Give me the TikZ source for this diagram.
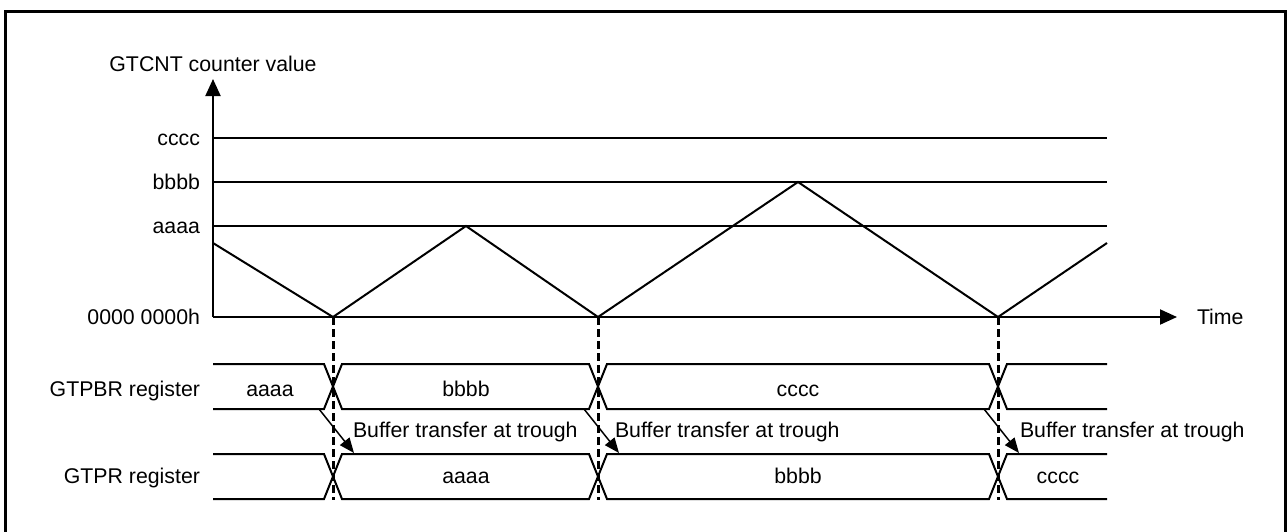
\documentclass[tikz,border=0pt]{standalone}
\usepackage{fontspec}
\setmainfont{Liberation Sans}
\usetikzlibrary{arrows.meta}
\begin{document}
\begin{tikzpicture}[x=1pt,y=-1pt,
  every node/.style={font=\fontsize{21.3}{25}\selectfont, inner sep=0pt, outer sep=0pt},
  ln/.style={line width=2pt},
  frame/.style={line width=3pt},
  trig/.style={line width=3pt, dash pattern=on 8pt off 4pt},
  axarrow/.style={line width=2pt, -{Triangle[length=17pt,width=15pt]}},
  xfer/.style={line width=1.5pt, -{Triangle[length=15pt,width=12pt]}},
  lvl/.style={anchor=base east},
  buslbl/.style={anchor=base},
  xferlbl/.style={anchor=base west},
]
\useasboundingbox (0,0) rectangle (1288,531);
% frame (bottom edge outside the picture)
\draw[frame] (5,533) -- (5,11) -- (1285,11) -- (1285,533);

% axes
\coordinate (o) at (213,317);
\coordinate (ytip) at (213,79);
\coordinate (xtip) at (1177,317);
\draw[axarrow] (o) -- (ytip);
\draw[axarrow] (o) -- (xtip);
\node[anchor=base] (ylab) at (213,71) {GTCNT counter value};
\node[anchor=base west] (tlab) at (1197,324) {Time};

% level lines and labels
\coordinate (c0) at (213,138); \coordinate (c1) at (1107,138);
\coordinate (b0) at (213,182); \coordinate (b1) at (1107,182);
\coordinate (a0) at (213,226); \coordinate (a1) at (1107,226);
\draw[ln] (c0) -- (c1);
\draw[ln] (b0) -- (b1);
\draw[ln] (a0) -- (a1);
\node[lvl] (lc) at (200,145) {cccc};
\node[lvl] (lb) at (200,189) {bbbb};
\node[lvl] (la) at (200,233) {aaaa};
\node[lvl] (lz) at (200,324) {0000 0000h};

% counter waveform
\coordinate (w0) at (213,243);
\coordinate (t1) at (333,317);
\coordinate (p1) at (466,226);
\coordinate (t2) at (598,317);
\coordinate (p2) at (798,182);
\coordinate (t3) at (998,317);
\coordinate (w1) at (1107,243);
\draw[ln, line join=miter] (w0) -- (t1) -- (p1) -- (t2) -- (p2) -- (t3) -- (w1);

% buses
\foreach \yt/\yb in {364/409, 454/499}{
  \draw[ln] (213,\yt) -- (324,\yt) -- (342,\yb) -- (589,\yb) -- (607,\yt) -- (989,\yt) -- (1007,\yb) -- (1107,\yb);
  \draw[ln] (213,\yb) -- (324,\yb) -- (342,\yt) -- (589,\yt) -- (607,\yb) -- (989,\yb) -- (1007,\yt) -- (1107,\yt);
}
\node[lvl] (gtpbr) at (200,396) {GTPBR register};
\node[lvl] (gtpr) at (200,483) {GTPR register};
\node[buslbl] (pa) at (270,396) {aaaa};
\node[buslbl] (pb) at (466,396) {bbbb};
\node[buslbl] (pc) at (798,396) {cccc};
\node[buslbl] (ra) at (466,483) {aaaa};
\node[buslbl] (rb) at (798,483) {bbbb};
\node[buslbl] (rc) at (1058,483) {cccc};

% trough markers
\coordinate (d1) at (333,500);
\coordinate (d2) at (598,500);
\coordinate (d3) at (998,500);
\draw[trig] (t1) -- (d1);
\draw[trig] (t2) -- (d2);
\draw[trig] (t3) -- (d3);

% buffer transfer arrows
\foreach \x/\n in {333/1, 598/2, 998/3}{
  \coordinate (s\n) at (\x-14,409);
  \coordinate (e\n) at (\x+21,453);
  \draw[xfer] (s\n) -- (e\n);
}
\node[xferlbl] (bt1) at (353,437) {Buffer transfer at trough};
\node[xferlbl] (bt2) at (615,437) {Buffer transfer at trough};
\node[xferlbl] (bt3) at (1020,437) {Buffer transfer at trough};
\end{tikzpicture}
\end{document}
